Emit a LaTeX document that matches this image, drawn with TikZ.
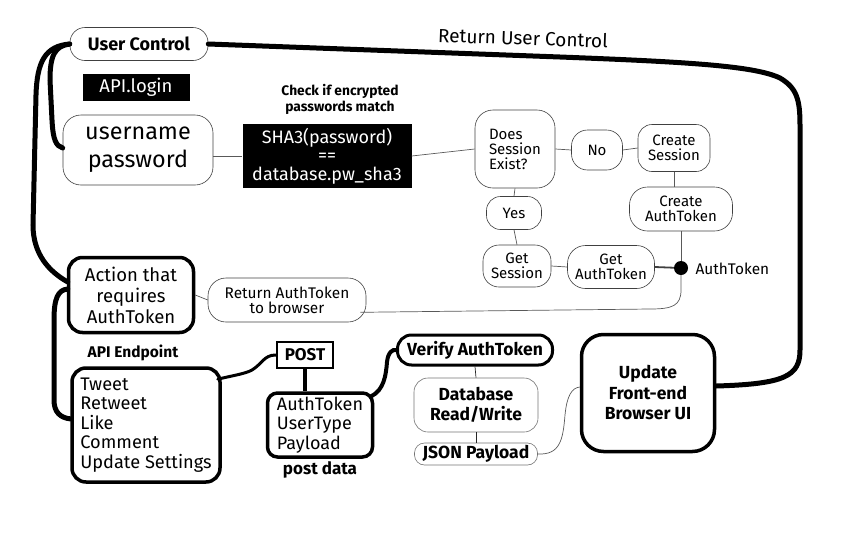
\documentclass[tikz,border=0pt]{standalone}
\usepackage{fontspec}
\setmainfont{Fira Sans}
\usetikzlibrary{calc}
\begin{document}
\begin{tikzpicture}[x=1pt,y=-1pt,
  blob/.style={draw=black!75, line width=0.6pt, rounded corners=12pt, align=center, inner sep=1pt, font=\fontsize{15}{15}\selectfont},
  heavy/.style={draw=black, line width=3.5pt, rounded corners=14pt, align=center, inner sep=1pt},
  thicklink/.style={draw=black, line width=5pt, line cap=round},
  thinlink/.style={draw=black!65, line width=0.7pt},
  blackbox/.style={fill=black, text=white, align=center, inner sep=1pt},
  boldtxt/.style={font=\bfseries\fontsize{17.5}{20.5}\selectfont, align=center}
]
\useasboundingbox (0,0) rectangle (844,536);

% ---- nodes ----
\node[blob, minimum width=138pt, minimum height=33pt, rounded corners=15pt, font=\bfseries\fontsize{18}{18}\selectfont] (uc) at (139,44) {User Control};
\node[blackbox, minimum width=107pt, minimum height=27pt, font=\fontsize{18.5}{20}\selectfont] (api) at (136,87) {API.login};
\node[blob, minimum width=150pt, minimum height=70pt, rounded corners=18pt, font=\fontsize{23.4}{28}\selectfont] (up) at (138,150) {username\\password};
\node[font=\bfseries\fontsize{13.8}{16}\selectfont, align=center] (chk) at (340,99) {Check if encrypted\\passwords match};
\node[blackbox, minimum width=169pt, minimum height=64pt, font=\fontsize{18}{18.5}\selectfont] (sha) at (327,156) {SHA3(password)\\==\\database.pw\_sha3};

\node[blob, minimum width=80pt, minimum height=78pt, rounded corners=18pt, align=left, font=\fontsize{15}{15}\selectfont] (dse) at (515,149) {Does\\Session\\Exist?};
\node[blob, minimum width=51pt, minimum height=40pt, rounded corners=16pt] (no) at (597,150) {No};
\node[blob, minimum width=72pt, minimum height=47pt, rounded corners=14pt] (cs) at (674,148) {Create\\Session};
\node[blob, minimum width=103pt, minimum height=44pt, rounded corners=18pt] (ca) at (681,209) {Create\\AuthToken};
\node[blob, minimum width=55pt, minimum height=33pt, rounded corners=14pt] (yes) at (514,213) {Yes};
\node[blob, minimum width=68pt, minimum height=42pt, rounded corners=16pt] (gs) at (517,266) {Get\\Session};
\node[blob, minimum width=87pt, minimum height=43pt, rounded corners=18pt] (ga) at (611,267) {Get\\AuthToken};
\node[circle, fill=black, inner sep=0pt, minimum size=14pt] (dot) at (681,268) {};
\node[anchor=west, font=\fontsize{15.4}{16}\selectfont] (atl) at (692,269) {AuthToken};

\node[heavy, minimum width=125pt, minimum height=75pt, font=\fontsize{18.5}{21}\selectfont] (act) at (131,295) {Action that\\requires\\AuthToken};
\node[blob, minimum width=158pt, minimum height=44pt, rounded corners=18pt, font=\fontsize{15.4}{15}\selectfont] (ret) at (287,300) {Return AuthToken\\to browser};
\node[font=\bfseries\fontsize{15.5}{17}\selectfont] (apie) at (133,353) {API Endpoint};
\node[heavy, minimum width=148pt, minimum height=114pt, align=left, font=\fontsize{18.2}{19.6}\selectfont] (ep) at (146,425) {Tweet\\Retweet\\Like\\Comment\\Update Settings};

\node[draw=black, line width=2.5pt, minimum width=56pt, minimum height=26pt, inner sep=1pt, font=\bfseries\fontsize{17}{17}\selectfont] (post) at (305,355) {POST};
\node[heavy, minimum width=105pt, minimum height=64pt, align=left, rounded corners=10pt, font=\fontsize{18}{19.5}\selectfont] (pd) at (320,425) {AuthToken\\UserType\\Payload};
\node[font=\bfseries\fontsize{17}{18}\selectfont] (pdl) at (320,470) {post data};

\node[heavy, line width=3pt, rounded corners=14pt, minimum width=155pt, minimum height=30pt, boldtxt] (ver) at (475,350) {Verify AuthToken};
\node[blob, draw=black!55, minimum width=124pt, minimum height=54pt, rounded corners=14pt, boldtxt] (db) at (476,405) {Database\\Read/Write};
\node[blob, draw=black!55, minimum width=123pt, minimum height=22pt, rounded corners=10pt, boldtxt] (json) at (476,454) {JSON Payload};
\node[heavy, minimum width=133pt, minimum height=117pt, rounded corners=22pt, boldtxt] (upd) at (648,393) {Update\\Front-end\\Browser UI};

\node[rotate=-2, font=\fontsize{19}{20}\selectfont] (ruc) at (523,38) {Return User Control};

% ---- thin connectors ----
\draw[thinlink] (sha.west -| up.east) -- (sha.west);
\draw[thinlink] (sha.east) -- (dse.west);
\draw[thinlink] (dse.east) -- (no.west);
\draw[thinlink] (no.east) -- (cs.west);
\draw[thinlink] (cs.south) -- (cs.south |- ca.north);
\draw[thinlink] (ca.south -| dot) -- (dot);
\draw[thinlink] (dse.south) -- (yes.north);
\draw[thinlink] (yes.south) -- (gs.north);
\draw[thinlink] (gs.east) -- (ga.west);
\draw[draw=black!75, line width=1.8pt] (ga.east) -- (dot);
\draw[thinlink] (dot.south) -- (681,290) .. controls (681,306) and (672,309) .. (650,309) -- ($(ret.south east)+(-6,-10)$);
\draw[thinlink] (act.east) -- (ret.west);
\draw[thinlink, black!85] (ver.south) -- (db.north);
\draw[thinlink, black!85] (db.south) -- (json.north);
\draw[thinlink] (json.east) .. controls (560,455) and (563,440) .. (565,415) .. controls (567,395) and (572,388) .. ($(upd.west)+(0,-6)$);

% ---- thick connectors ----
\draw[thicklink] (uc.east) -- (560,57) .. controls (690,62) and (755,66) .. (780,78) .. controls (797,88) and (800,100) .. (800,125) -- (800,350) .. controls (800,376) and (785,384) .. ($(upd.east)+(0,-7)$);
\draw[thicklink] (uc.west) .. controls (55,46) and (50,55) .. (50,80) -- (52,120) .. controls (53,140) and (56,146) .. ($(up.west)+(0,-2)$);
\draw[thicklink] (uc.west) .. controls (45,46) and (37,62) .. (36,95) -- (33,225) .. controls (33,255) and (50,272) .. ($(act.west)+(1,-13)$);
\draw[thicklink] ($(act.west)+(1,-6)$) .. controls (58,290) and (54,298) .. (54,320) -- (54,400) .. controls (54,412) and (60,418) .. ($(ep.west)+(1,-6)$);
\draw[thicklink, line width=3pt] ($(ep.north east)+(-4,13)$) .. controls (230,376) and (245,374) .. (252,370) .. controls (262,364) and (264,355) .. (post.west);
\draw[thicklink, line width=4pt, line cap=butt] (post.south) -- (post.south |- pd.north);
\draw[thicklink, line width=4pt] ($(pd.north east)+(-3,5)$) .. controls (384,390) and (386,375) .. (387,362) .. controls (388,352) and (393,349) .. (ver.west);
\end{tikzpicture}
\end{document}
